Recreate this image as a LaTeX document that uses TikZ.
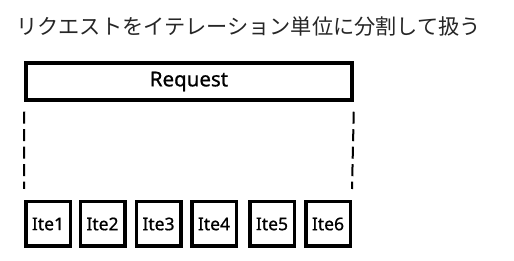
\documentclass[tikz,border=0pt]{standalone}
\usepackage{fontspec}
\usepackage{tikz}
\usetikzlibrary{positioning}
\newfontfamily\jpfont{Noto Sans CJK JP}
\newfontfamily\labelfont[FakeBold=0.8]{Noto Sans}

\begin{document}
\begin{tikzpicture}[x=1pt, y=-1pt,
    reqbox/.style={draw, line width=3.5pt, minimum width=326pt, minimum height=37pt, font=\labelfont\fontsize{20.5}{24}\selectfont},
    itebox/.style={draw, line width=3.5pt, minimum width=44.5pt, minimum height=44.5pt, inner sep=0pt, font=\labelfont\fontsize{17.5}{21}\selectfont},
    split/.style={line width=2pt, dash pattern=on 12pt off 5.5pt}]
    \useasboundingbox (0,0) rectangle (514,261);

    % タイトル
    \node[anchor=west, inner sep=0pt, text=black!85, font=\jpfont\fontsize{21.2}{24}\selectfont] (title) at (16,26) {リクエストをイテレーション単位に分割して扱う};

    % リクエスト
    \node[reqbox] (req) at (189,81.5) {Request};

    % イテレーション
    \foreach \i/\x in {1/48, 2/102.5, 3/158.5, 4/214, 5/272, 6/328}
        \node[itebox] (ite\i) at (\x,224) {Ite\i};

    % 分割の範囲
    \draw[split] ([yshift=-10pt]req.south west) -- ([yshift=11pt]ite1.north west);
    \draw[split] ([yshift=-10pt]req.south east) -- ([yshift=11pt]ite6.north east);
\end{tikzpicture}
\end{document}
